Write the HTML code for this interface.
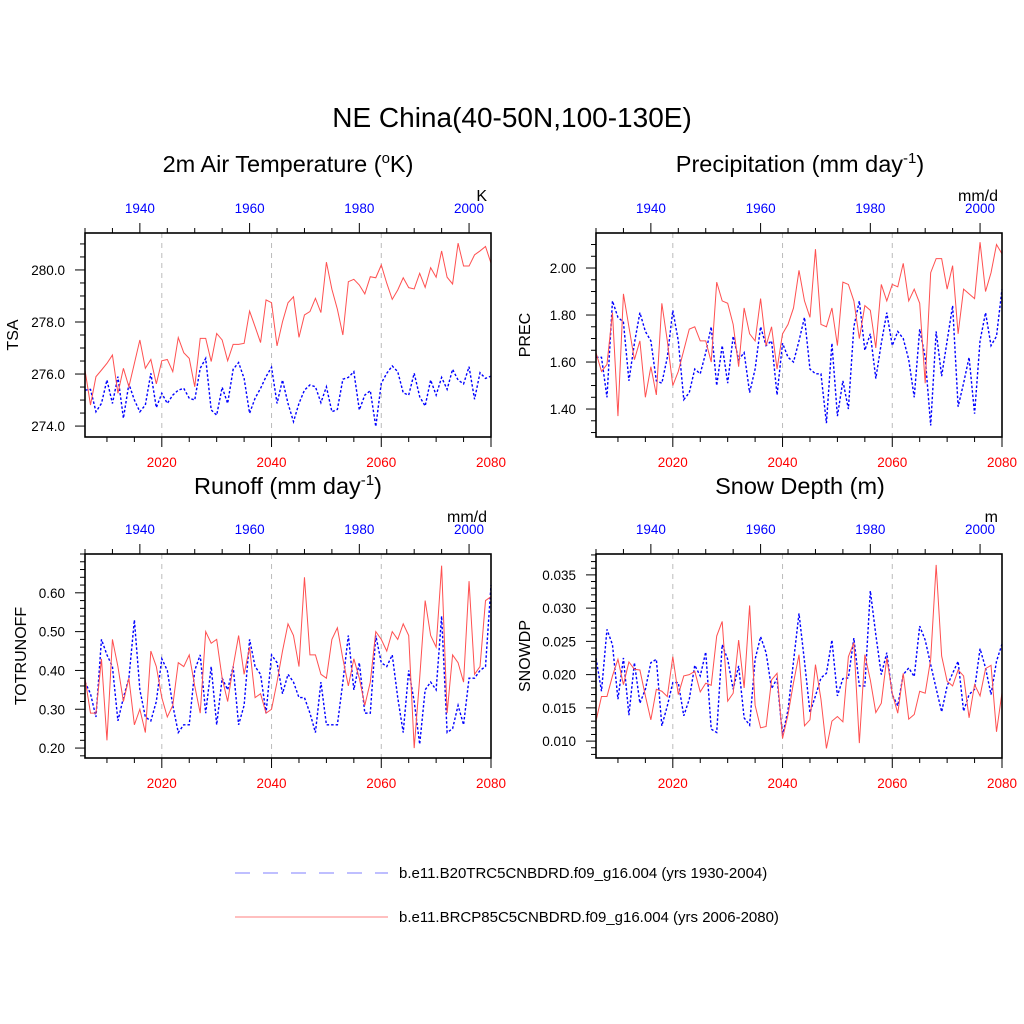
<!DOCTYPE html>
<html><head><meta charset="utf-8">
<style>
html,body{margin:0;padding:0;background:#fff;}
svg{display:block;font-family:"Liberation Sans",Arial,sans-serif;}
</style></head>
<body>
<svg id="chart" width="1024" height="1024" viewBox="0 0 1024 1024">
<text x="512" y="127" font-size="28" text-anchor="middle">NE China(40-50N,100-130E)</text>
<text x="288" y="172" font-size="23.5" text-anchor="middle">2m Air Temperature (<tspan font-size="15" dy="-9">o</tspan><tspan dy="9">K)</tspan></text>
<text x="800" y="172" font-size="23.5" text-anchor="middle">Precipitation (mm day<tspan font-size="15" dy="-9">-1</tspan><tspan dy="9">)</tspan></text>
<text x="288" y="494" font-size="23.5" text-anchor="middle">Runoff (mm day<tspan font-size="15" dy="-9">-1</tspan><tspan dy="9">)</tspan></text>
<text x="800" y="494" font-size="23.5" text-anchor="middle">Snow Depth (m)</text>
<g id="panels"></g>
<g>
<line x1="235" y1="873" x2="388" y2="873" stroke="#9999ff" stroke-width="1.3" stroke-dasharray="15,13"/>
<text x="399" y="878" font-size="15">b.e11.B20TRC5CNBDRD.f09_g16.004 (yrs 1930-2004)</text>
<line x1="235" y1="917" x2="388" y2="917" stroke="#ff9999" stroke-width="1.3"/>
<text x="399" y="922" font-size="15">b.e11.BRCP85C5CNBDRD.f09_g16.004 (yrs 2006-2080)</text>
</g>
</svg>
<script>
const futureYears = [2006, 2080];
const histYears = [1930, 2004];
const bottomTicks = [2020, 2040, 2060, 2080];
const topTicks = [1940, 1960, 1980, 2000];

const tsaFuture = [276.15,274.81,275.90,276.15,276.41,276.73,275.26,276.22,275.51,276.41,277.31,276.22,276.56,275.62,276.51,276.56,276.09,277.40,276.82,276.60,275.51,277.37,277.37,276.48,277.56,277.31,276.51,277.14,277.14,277.18,278.42,277.82,277.21,278.85,278.74,277.08,278.01,278.74,278.97,277.41,278.27,278.40,278.91,278.36,280.30,279.26,278.49,277.50,279.55,279.64,279.42,279.08,279.74,279.70,280.19,279.49,278.87,279.23,279.70,279.32,279.27,279.87,279.33,280.09,279.72,280.73,279.72,279.46,281.03,280.15,280.15,280.58,280.73,280.90,280.26];
const tsaHist = [275.38,275.41,274.55,274.87,275.77,274.87,275.90,274.30,275.62,275.00,274.55,274.81,276.03,274.71,275.26,274.87,275.19,275.38,275.45,275.07,275.00,276.22,276.60,274.62,274.42,275.49,274.87,276.18,276.44,275.83,274.49,275.07,275.45,275.90,276.26,274.87,275.77,274.87,274.17,274.87,275.38,275.58,275.51,274.90,275.51,274.55,274.64,275.80,275.87,276.09,274.62,275.19,275.36,273.98,275.64,276.03,276.31,276.09,275.28,275.19,276.03,275.13,274.77,275.77,275.19,275.87,275.41,276.18,275.77,275.62,276.28,275.03,276.05,275.83,275.92];
const tsaTicks = [274.0, 276.0, 278.0, 280.0];

const precFuture = [1.64,1.56,1.59,1.81,1.37,1.89,1.75,1.61,1.69,1.45,1.58,1.46,1.85,1.69,1.50,1.56,1.65,1.74,1.75,1.69,1.69,1.60,1.94,1.86,1.85,1.76,1.58,1.83,1.72,1.69,1.87,1.67,1.75,1.57,1.72,1.76,1.83,1.99,1.86,1.79,2.08,1.76,1.75,1.83,1.67,1.94,1.93,1.86,1.70,1.84,1.82,1.66,1.93,1.86,1.93,1.92,2.02,1.86,1.91,1.85,1.51,1.98,2.04,2.04,1.91,2.01,1.72,1.91,1.89,1.87,2.11,1.90,1.98,2.10,2.06];
const precHist = [1.62,1.62,1.45,1.86,1.79,1.77,1.52,1.68,1.81,1.73,1.69,1.52,1.51,1.62,1.82,1.69,1.44,1.47,1.57,1.55,1.64,1.75,1.50,1.67,1.51,1.71,1.61,1.64,1.47,1.57,1.75,1.67,1.69,1.46,1.68,1.62,1.60,1.69,1.79,1.57,1.55,1.55,1.34,1.68,1.37,1.52,1.40,1.75,1.86,1.65,1.72,1.53,1.68,1.81,1.67,1.73,1.70,1.61,1.45,1.74,1.62,1.33,1.73,1.54,1.69,1.84,1.41,1.51,1.62,1.38,1.69,1.81,1.67,1.71,1.91];
const precTicks = [1.40, 1.60, 1.80, 2.00];

const runoffFuture = [0.38,0.29,0.29,0.43,0.22,0.48,0.41,0.32,0.38,0.26,0.30,0.24,0.45,0.41,0.33,0.28,0.31,0.42,0.41,0.44,0.36,0.29,0.50,0.47,0.48,0.38,0.32,0.41,0.49,0.39,0.46,0.33,0.34,0.29,0.30,0.37,0.45,0.52,0.49,0.41,0.64,0.44,0.44,0.39,0.38,0.48,0.51,0.43,0.36,0.43,0.38,0.31,0.37,0.50,0.48,0.45,0.50,0.48,0.52,0.49,0.20,0.38,0.58,0.49,0.46,0.67,0.29,0.44,0.42,0.37,0.63,0.39,0.41,0.58,0.59];
const runoffHist = [0.37,0.34,0.28,0.48,0.44,0.41,0.27,0.33,0.38,0.53,0.35,0.28,0.27,0.32,0.43,0.40,0.31,0.24,0.26,0.26,0.40,0.44,0.29,0.41,0.26,0.38,0.35,0.41,0.26,0.31,0.48,0.41,0.39,0.29,0.44,0.42,0.34,0.39,0.37,0.33,0.33,0.29,0.24,0.37,0.26,0.26,0.26,0.37,0.49,0.35,0.42,0.29,0.29,0.49,0.42,0.41,0.44,0.33,0.24,0.40,0.32,0.21,0.35,0.37,0.35,0.54,0.24,0.25,0.31,0.26,0.38,0.38,0.40,0.41,0.62];
const runoffTicks = [0.20, 0.30, 0.40, 0.50, 0.60];

const snowFuture = [0.0130,0.0167,0.0167,0.0198,0.0223,0.0185,0.0219,0.0208,0.0207,0.0168,0.0132,0.0178,0.0175,0.0167,0.0227,0.0170,0.0198,0.0200,0.0205,0.0174,0.0187,0.0184,0.0258,0.0280,0.0160,0.0172,0.0252,0.0180,0.0304,0.0154,0.0120,0.0122,0.0192,0.0202,0.0104,0.0140,0.0188,0.0230,0.0123,0.0132,0.0215,0.0163,0.0089,0.0130,0.0137,0.0129,0.0227,0.0248,0.0097,0.0230,0.0192,0.0143,0.0157,0.0225,0.0172,0.0142,0.0202,0.0133,0.0140,0.0175,0.0172,0.0223,0.0365,0.0228,0.0190,0.0183,0.0207,0.0198,0.0135,0.0185,0.0168,0.0209,0.0214,0.0114,0.0173];
const snowHist = [0.0225,0.0175,0.0268,0.0245,0.0163,0.0225,0.0139,0.0218,0.0157,0.0178,0.0218,0.0223,0.0123,0.0153,0.0188,0.0188,0.0138,0.0163,0.0214,0.0198,0.0234,0.0118,0.0113,0.0245,0.0223,0.0178,0.0213,0.0135,0.0124,0.0223,0.0257,0.0233,0.0179,0.0194,0.0108,0.0147,0.0220,0.0292,0.0220,0.0143,0.0168,0.0195,0.0202,0.0252,0.0168,0.0194,0.0195,0.0255,0.0183,0.0183,0.0326,0.0260,0.0200,0.0233,0.0170,0.0153,0.0200,0.0210,0.0197,0.0273,0.0252,0.0215,0.0179,0.0144,0.0183,0.0202,0.0220,0.0145,0.0170,0.0178,0.0239,0.0210,0.0170,0.0220,0.0246];
const snowTicks = [0.010, 0.015, 0.020, 0.025, 0.030, 0.035];

const NS = "http://www.w3.org/2000/svg";
const root = document.getElementById("panels");
function mk(tag, attrs, parent) {
  const e = document.createElementNS(NS, tag);
  for (const k in attrs) e.setAttribute(k, attrs[k]);
  (parent || root).appendChild(e);
  return e;
}

const panels = [
  {key:"tsa", x0:85, y0:233, ymin:273.58, ymax:281.42, ticks:tsaTicks, minor:0.5, dec:1, label:"TSA", unit:"K", fut:tsaFuture, hist:tsaHist, labelX:18},
  {key:"prec", x0:596, y0:233, ymin:1.281, ymax:2.149, ticks:precTicks, minor:0.05, dec:2, label:"PREC", unit:"mm/d", fut:precFuture, hist:precHist, labelX:530},
  {key:"runoff", x0:85, y0:554, ymin:0.1744, ymax:0.7, ticks:runoffTicks, minor:0.02, dec:2, label:"TOTRUNOFF", unit:"mm/d", fut:runoffFuture, hist:runoffHist, labelX:26},
  {key:"snow", x0:596, y0:554, ymin:0.00746, ymax:0.03814, ticks:snowTicks, minor:0.001, dec:3, label:"SNOWDP", unit:"m", fut:snowFuture, hist:snowHist, labelX:530}
];
const W = 406, H = 204;

panels.forEach(p => {
  const g = mk("g", {});
  
  
  const xF = yr => p.x0 + (yr - futureYears[0]) / (futureYears[1] - futureYears[0]) * W;
  const xH = yr => p.x0 + (yr - histYears[0]) / (histYears[1] - histYears[0]) * W;
  const yS = v => p.y0 + H - (v - p.ymin) / (p.ymax - p.ymin) * H;

  bottomTicks.forEach(t => {
    if (t >= futureYears[1]) return;
    const l = mk("line", {x1:xF(t), x2:xF(t), y1:p.y0, y2:p.y0+H, stroke:"#bbbbbb", "stroke-width":1, "stroke-dasharray":"5,5"}, g);
    
    
  });

  const mkPath = (vals, xf, years0) => {
    let d = "";
    vals.forEach((v, i) => { d += (i ? "L" : "M") + xf(years0 + i).toFixed(2) + "," + yS(v).toFixed(2); });
    return d;
  };
  const hp = mk("path", {d:mkPath(p.hist, xH, histYears[0]), fill:"none", stroke:"#0000ff", "stroke-width":1.4, "stroke-dasharray":"2.5,2"}, g);
  
  
  const fp = mk("path", {d:mkPath(p.fut, xF, futureYears[0]), fill:"none", stroke:"#ff5050", "stroke-width":1}, g);
  
  

  const fr = mk("rect", {x:p.x0, y:p.y0, width:W, height:H, fill:"none", stroke:"#000", "stroke-width":1.6}, g);
  
  

  for (let yr = 2010; yr <= 2080; yr += 5) {
    const maj = yr % 20 === 0;
    const l = mk("line", {x1:xF(yr), x2:xF(yr), y1:p.y0+H, y2:p.y0+H+(maj?10:5), stroke:"#000", "stroke-width":1}, g);
    
    
  }
  for (let yr = 1930; yr <= 2004; yr += 5) {
    const maj = yr % 20 === 0;
    const l = mk("line", {x1:xH(yr), x2:xH(yr), y1:p.y0, y2:p.y0-(maj?10:5), stroke:"#000", "stroke-width":1}, g);
    
    
  }
  bottomTicks.forEach(t => {
    const tx = mk("text", {x:xF(t), y:p.y0+H+30, "font-size":13.5, fill:"#ff0000", "text-anchor":"middle"}, g);
    tx.textContent = t;
    
    
  });
  topTicks.forEach(t => {
    const tx = mk("text", {x:xH(t), y:p.y0-20, "font-size":13.5, fill:"#0000ff", "text-anchor":"middle"}, g);
    tx.textContent = t;
    
    
  });

  const n0 = Math.ceil(p.ymin / p.minor - 1e-6), n1 = Math.floor(p.ymax / p.minor + 1e-6);
  for (let n = n0; n <= n1; n++) {
    const v = n * p.minor;
    const maj = p.ticks.some(t => Math.abs(t - v) < p.minor / 10);
    const l = mk("line", {x1:p.x0-(maj?10:5), x2:p.x0, y1:yS(v), y2:yS(v), stroke:"#000", "stroke-width":1}, g);
    
    
  }
  p.ticks.forEach(t => {
    const tx = mk("text", {x:p.x0-20, y:yS(t)+5, "font-size":13.5, "text-anchor":"end"}, g);
    tx.textContent = t.toFixed(p.dec);
    
    
  });

  const yl = mk("text", {x:p.labelX, y:p.y0+H/2, "font-size":16, "text-anchor":"middle", transform:"rotate(-90 " + p.labelX + " " + (p.y0+H/2) + ")"}, g);
  yl.textContent = p.label;
  
  

  const un = mk("text", {x:p.x0+W-4, y:p.y0-32, "font-size":16, "text-anchor":"end"}, g);
  un.textContent = p.unit;
  
  
});
</script>
</body></html>
